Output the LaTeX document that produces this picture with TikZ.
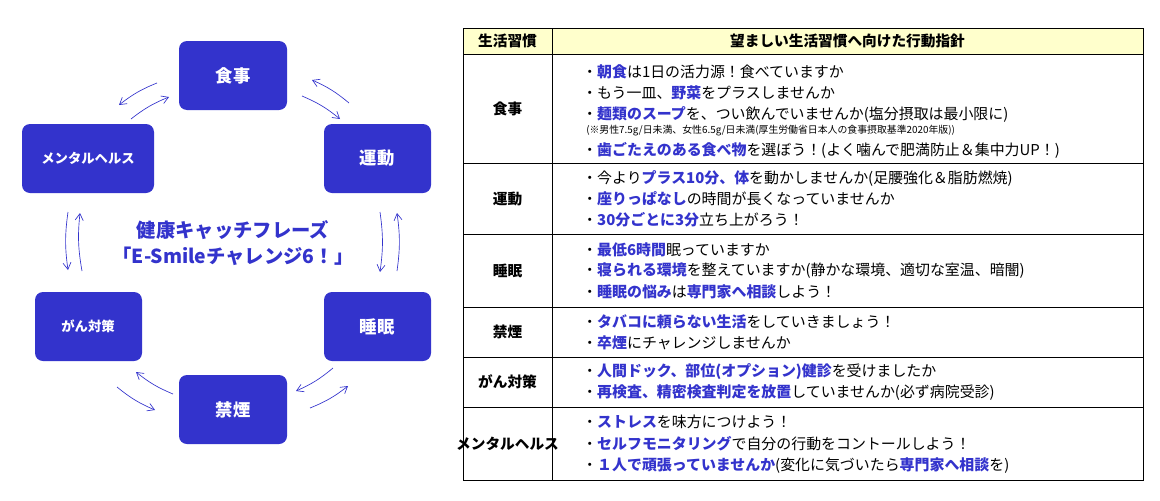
\documentclass[tikz,border=0pt]{standalone}
\usepackage{fontspec}
\setmainfont{Noto Sans CJK JP}
\usetikzlibrary{arrows.meta}
\definecolor{bl}{HTML}{3333CC}
\definecolor{hy}{HTML}{FFFFCC}
\newcommand{\Bh}[1]{\textcolor{bl}{\bfseries #1}}
\begin{document}
\begin{tikzpicture}[x=0.75pt,y=-0.75pt,
  box/.style={fill=bl,rounded corners=6pt,text=white,font=\bfseries\fontsize{11}{13}\selectfont},
  cyc/.style={draw=bl,-{Straight Barb[length=5pt,width=6pt]},line width=0.5pt},
  ln/.style={anchor=west,inner sep=0pt,font=\fontsize{11.2}{13}\selectfont},
  sm/.style={anchor=west,inner sep=0pt,font=\fontsize{7.4}{9}\selectfont},
  hd/.style={font=\bfseries\fontsize{11}{13}\selectfont}]
\useasboundingbox (0,0) rectangle (1160,500);
% cycle boxes
\fill[bl,rounded corners=6pt] (179,41) rectangle (287,110);
\node[text=white,font=\bfseries\fontsize{13}{15}\selectfont] (shoku) at (233,75.5) {食事};
\fill[bl,rounded corners=6pt] (324,124) rectangle (431,193);
\node[text=white,font=\bfseries\fontsize{13}{15}\selectfont] (undo) at (377,158.5) {運動};
\fill[bl,rounded corners=6pt] (22,124) rectangle (154,193);
\node[text=white,font=\bfseries\fontsize{10}{12}\selectfont] (mental) at (88,158.5) {メンタルヘルス};
\fill[bl,rounded corners=6pt] (35,292) rectangle (142,361);
\node[text=white,font=\bfseries\fontsize{10}{12}\selectfont] (gan) at (88,326.5) {がん対策};
\fill[bl,rounded corners=6pt] (324,292) rectangle (431,361);
\node[text=white,font=\bfseries\fontsize{13}{15}\selectfont] (suimin) at (377,326.5) {睡眠};
\fill[bl,rounded corners=6pt] (179,375) rectangle (287,444);
\node[text=white,font=\bfseries\fontsize{13}{15}\selectfont] (kinen) at (233,409.5) {禁煙};
% center text
\node[text=bl,font=\bfseries\fontsize{14.5}{17}\selectfont,align=center] (catch) at (233,243)
  {健康キャッチフレーズ\\[2pt]「E-Smileチャレンジ6！」};
% arrows
\coordinate (a1) at (157,83); \coordinate (a2) at (119,105);
\draw[cyc] (a1) to[bend right=8] (a2);
\coordinate (a3) at (131,119); \coordinate (a4) at (169,97);
\draw[cyc] (a3) to[bend left=8] (a4);
\coordinate (b1) at (302,96); \coordinate (b2) at (340,119);
\draw[cyc] (b1) to[bend left=8] (b2);
\coordinate (b3) at (349,103); \coordinate (b4) at (312,80);
\draw[cyc] (b3) to[bend right=8] (b4);
\coordinate (c1) at (380,212); \coordinate (c2) at (380,272);
\draw[cyc] (c1) to[bend left=8] (c2);
\coordinate (c3) at (397,271); \coordinate (c4) at (397,213);
\draw[cyc] (c3) to[bend right=8] (c4);
\coordinate (d1) at (68,212); \coordinate (d2) at (68,270);
\draw[cyc] (d1) to[bend right=8] (d2);
\coordinate (d3) at (82,271); \coordinate (d4) at (80,213);
\draw[cyc] (d3) to[bend left=8] (d4);
\coordinate (e1) at (173,394); \coordinate (e2) at (136,372);
\draw[cyc] (e1) to[bend left=8] (e2);
\coordinate (e3) at (117,387); \coordinate (e4) at (155,410);
\draw[cyc] (e3) to[bend right=8] (e4);
\coordinate (f1) at (333,368); \coordinate (f2) at (296,391);
\draw[cyc] (f1) to[bend left=8] (f2);
\coordinate (f3) at (310,408); \coordinate (f4) at (348,386);
\draw[cyc] (f3) to[bend right=8] (f4);
% table
\fill[hy] (463,28) rectangle (1143,54);
\draw[line width=0.6pt] (463,28) rectangle (1143,480);
\foreach \y in {54,163,234,307,357,407} \draw[line width=0.6pt] (463,\y) -- (1143,\y);
\draw[line width=0.6pt] (552,28) -- (552,480);
\node[hd] (h1) at (507.5,41) {生活習慣};
\node[hd] (h2) at (847.5,41) {望ましい生活習慣へ向けた行動指針};
\node[hd] (r1) at (507.5,109) {食事};
\node[hd] (r2) at (507.5,199) {運動};
\node[hd] (r3) at (507.5,271) {睡眠};
\node[hd] (r4) at (507.5,332) {禁煙};
\node[hd] (r5) at (507.5,382) {がん対策};
\node[hd] (r6) at (507.5,444) {メンタルヘルス};
\node[ln] (t11) at (582,72) {・\Bh{朝食}は1日の活力源！食べていますか};
\node[ln] (t12) at (582,93) {・もう一皿、\Bh{野菜}をプラスしませんか};
\node[ln] (t13) at (582,114) {・\Bh{麺類のスープ}を、つい飲んでいませんか(塩分摂取は最小限に)};
\node[sm] (t14) at (586,131) {(※男性7.5g/日未満、女性6.5g/日未満(厚生労働省日本人の食事摂取基準2020年版))};
\node[ln] (t15) at (582,150) {・\Bh{歯ごたえのある食べ物}を選ぼう！(よく噛んで肥満防止＆集中力UP！)};
\node[ln] (t21) at (582,178) {・今より\Bh{プラス10分、体}を動かしませんか(足腰強化＆脂肪燃焼)};
\node[ln] (t22) at (582,199) {・\Bh{座りっぱなし}の時間が長くなっていませんか};
\node[ln] (t23) at (582,220) {・\Bh{30分ごとに3分}立ち上がろう！};
\node[ln] (t31) at (582,250) {・\Bh{最低6時間}眠っていますか};
\node[ln] (t32) at (582,271) {・\Bh{寝られる環境}を整えていますか(静かな環境、適切な室温、暗闇)};
\node[ln] (t33) at (582,292) {・\Bh{睡眠の悩み}は\Bh{専門家へ相談}しよう！};
\node[ln] (t41) at (582,322) {・\Bh{タバコに頼らない生活}をしていきましょう！};
\node[ln] (t42) at (582,343) {・\Bh{卒煙}にチャレンジしませんか};
\node[ln] (t51) at (582,372) {・\Bh{人間ドック、部位(オプション)健診}を受けましたか};
\node[ln] (t52) at (582,393) {・\Bh{再検査、精密検査判定を放置}していませんか(必ず病院受診)};
\node[ln] (t61) at (582,422) {・\Bh{ストレス}を味方につけよう！};
\node[ln] (t62) at (582,444) {・\Bh{セルフモニタリング}で自分の行動をコントールしよう！};
\node[ln] (t63) at (582,466) {・\Bh{１人で頑張っていませんか}(変化に気づいたら\Bh{専門家へ相談}を)};
\end{tikzpicture}
\end{document}
